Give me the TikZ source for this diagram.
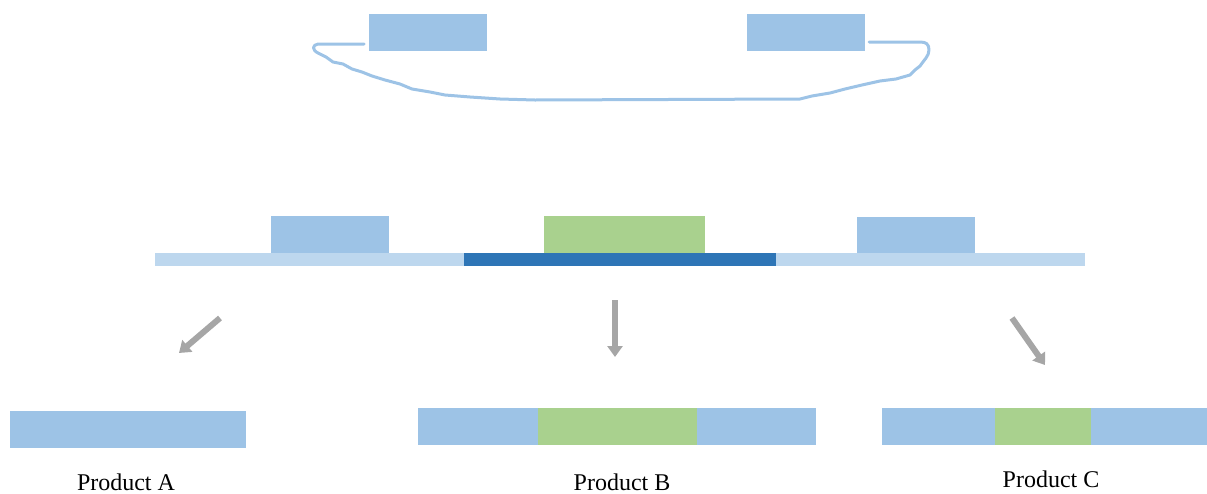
\documentclass[tikz,border=0pt]{standalone}
\usepackage{fontspec}
\setmainfont{Liberation Serif}
\usetikzlibrary{arrows.meta}
\definecolor{lblue}{HTML}{9DC3E6}
\definecolor{pblue}{HTML}{BDD7EE}
\definecolor{dblue}{HTML}{2E75B6}
\definecolor{lgreen}{HTML}{A9D18E}
\definecolor{agray}{HTML}{A6A6A6}
\begin{document}
\begin{tikzpicture}[x=1pt,y=-1pt,
  blk/.style={fill=#1,draw=none},
  gar/.style={draw=agray,line width=6pt,-{Triangle[width=15pt,length=11pt]}},
  lbl/.style={font=\fontsize{24}{28}\selectfont,inner sep=0pt,anchor=base}]
\useasboundingbox (0,0) rectangle (1207,493);
% top boxes
\fill[lblue] (369,14) rectangle (487,51);
\fill[lblue] (747,14) rectangle (865,51);
\coordinate (tl) at (364,44);
\coordinate (tr) at (869,42);
% hand-drawn loop
\draw[lblue,line width=3pt,line join=round,line cap=round]
  (tl) -- (318,44) .. controls (312,45) and (312,50) .. (318,53)
  -- (326,57) -- (333,62) -- (343,64) -- (352,69) -- (362,72) -- (372,76) -- (385,80)
  -- (400,84) -- (412,89) -- (430,92) -- (445,95) -- (470,97) -- (500,99) -- (535,100)
  -- (800,99) -- (812,96) -- (830,93) -- (845,89) -- (862,85) -- (880,81) -- (896,79)
  -- (910,75) -- (915,70) -- (920,66) .. controls (924,60) and (929,56) .. (929,50)
  .. controls (929,44) and (926,42) .. (920,42) -- (tr);
% middle row
\fill[lblue] (271,216) rectangle (389,253);
\fill[lgreen] (544,216) rectangle (705,253);
\fill[lblue] (857,217) rectangle (975,253);
\fill[pblue] (155,253) rectangle (464,266);
\fill[dblue] (464,253) rectangle (776,266);
\fill[pblue] (776,253) rectangle (1085,266);
% arrows
\coordinate (a1s) at (220,318); \coordinate (a1e) at (179,353);
\coordinate (a2s) at (615,300); \coordinate (a2e) at (615,357);
\coordinate (a3s) at (1012,318); \coordinate (a3e) at (1045,365);
\draw[gar] (a1s) -- (a1e);
\draw[gar] (a2s) -- (a2e);
\draw[gar] (a3s) -- (a3e);
% products
\fill[lblue] (10,411) rectangle (246,448);
\fill[lblue] (418,408) rectangle (538,445);
\fill[lgreen] (538,408) rectangle (697,445);
\fill[lblue] (697,408) rectangle (816,445);
\fill[lblue] (882,408) rectangle (995,445);
\fill[lgreen] (995,408) rectangle (1091,445);
\fill[lblue] (1091,408) rectangle (1207,445);
\node[lbl] (pa) at (126,490) {Product A};
\node[lbl] (pb) at (622,490) {Product B};
\node[lbl] (pc) at (1051,487) {Product C};
\end{tikzpicture}
\end{document}
